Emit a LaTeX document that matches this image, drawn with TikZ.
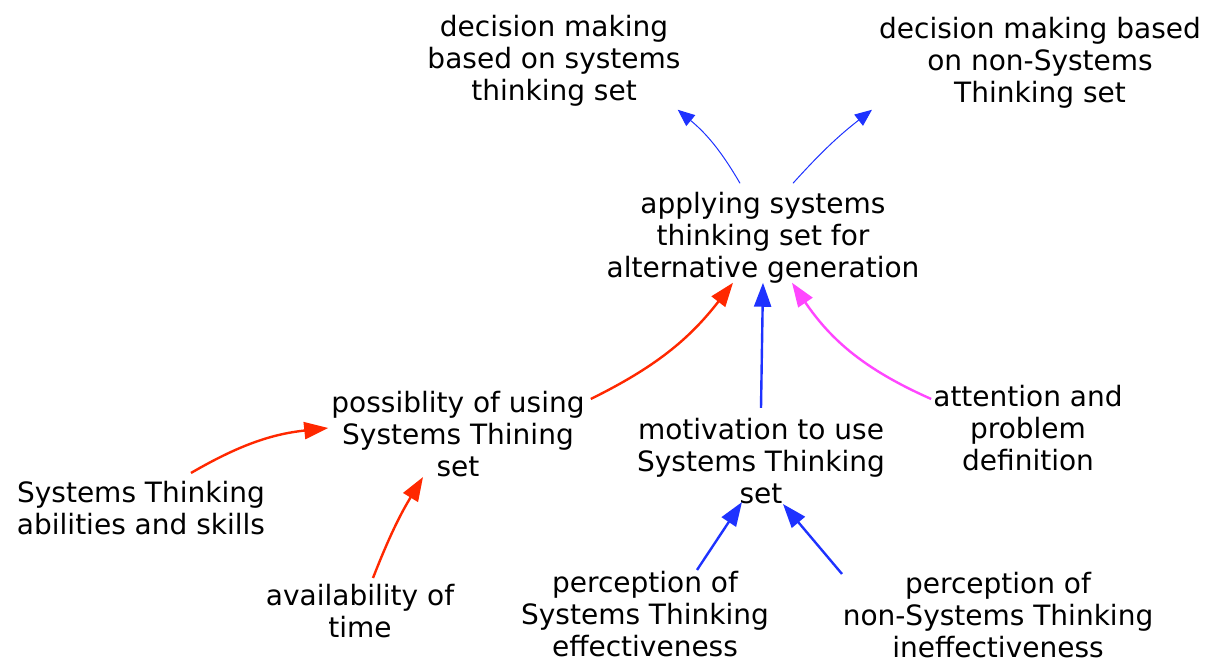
\documentclass[tikz,border=0pt]{standalone}
\usepackage{fontspec}
\setmainfont{DejaVu Sans}
\usetikzlibrary{arrows.meta,calc,positioning}
\definecolor{cldred}{RGB}{255,40,0}
\definecolor{cldblue}{RGB}{30,50,255}
\definecolor{cldpink}{RGB}{255,70,255}

\begin{document}
\begin{tikzpicture}[x=1pt,y=-1pt,
  every node/.style={align=center,inner sep=0pt,font=\fontsize{28}{32}\selectfont},
  thick link/.style={line width=2.4pt,-{Triangle[length=24pt,width=17pt]}},
  thin link/.style={line width=1pt,-{Triangle[length=17pt,width=14pt]}}]
\useasboundingbox (0,0) rectangle (1216,664);
\node (dec1) at (554,61) {decision making\\based on systems\\thinking set};
\node (dec2) at (1040,63) {decision making based\\on non-Systems\\Thinking set};
\node (apply) at (763,238) {applying systems\\thinking set for\\alternative generation};
\node (poss) at (458,434) {possiblity of using\\Systems Thining\\set};
\node (motiv) at (761,461) {motivation to use\\Systems Thinking\\set};
\node (attn) at (1028,428) {attention and\\problem\\definition};
\node (skills) at (141,508) {Systems Thinking\\abilities and skills};
\node (time) at (360,611) {availability of\\time};
\node (perc1) at (645,614) {perception of\\Systems Thinking\\effectiveness};
\node (perc2) at (998,615) {perception of\\non-Systems Thinking\\ineffectiveness};

\draw[thin link,cldblue] ([xshift=-23pt,yshift=9pt]apply.north) to[bend right=10] ([xshift=-3pt,yshift=-3pt]dec1.south east);
\draw[thin link,cldblue] ([xshift=30pt,yshift=9pt]apply.north) to[bend left=5] ([xshift=-168pt,yshift=-1pt]dec2.south);
\draw[thick link,cldred] ([xshift=6pt,yshift=-8pt]poss.north east) to[bend right=13] ([xshift=-30pt,yshift=1pt]apply.south);
\draw[thick link,cldblue] ([yshift=10pt]motiv.north) -- ([yshift=1pt]apply.south);
\draw[thick link,cldpink] ([xshift=-2pt,yshift=-14pt]attn.north west) to[bend left=16] ([xshift=29pt,yshift=1pt]apply.south);
\draw[thick link,cldred] ([xshift=50pt,yshift=8pt]skills.north) to[bend left=12] ([xshift=-3pt,yshift=6pt]poss.west);
\draw[thick link,cldred] ([xshift=13pt,yshift=6pt]time.north) to[bend left=5] ([xshift=-35pt]poss.south);
\draw[thick link,cldblue] ([xshift=52pt,yshift=1pt]perc1.north) -- ([xshift=-19pt,yshift=2pt]motiv.south);
\draw[thick link,cldblue] ([xshift=-156pt,yshift=-2pt]perc2.north) -- ([xshift=22pt]motiv.south);
\end{tikzpicture}
\end{document}
